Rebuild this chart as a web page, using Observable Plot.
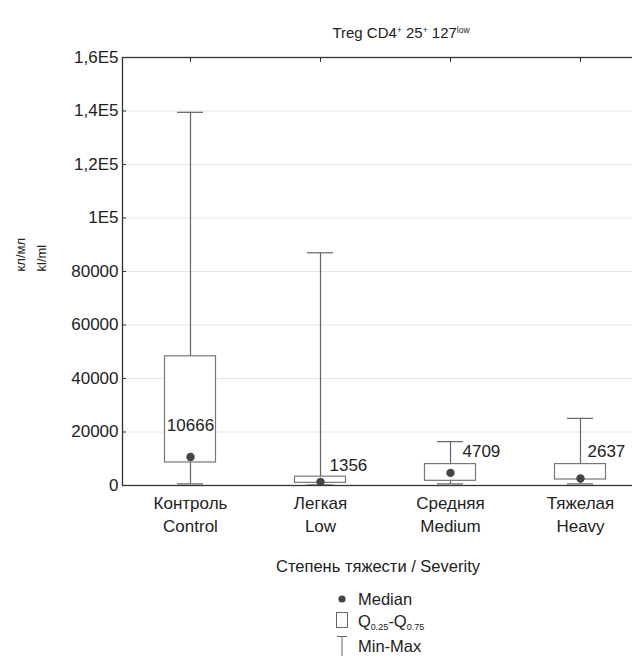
<!DOCTYPE html>
<html>
<head>
<meta charset="utf-8">
<script src="https://cdn.jsdelivr.net/npm/d3@7"></script>
<script src="https://cdn.jsdelivr.net/npm/@observablehq/plot@0.6"></script>
<style>
  html, body { margin: 0; padding: 0; background: #fff; overflow: hidden; }
  #wrap { position: relative; width: 632px; height: 656px; overflow: hidden; font-family: "Liberation Sans", Arial, sans-serif; color: #222; }
  #chart { position: absolute; left: 0; top: 0; }
  #chart svg { max-width: none !important; }
  .title { position: absolute; top: 24px; left: 0; width: 802px; text-align: center; font-size: 15px; color: #222; }
  .title sup { font-size: 8.5px; vertical-align: 5px; line-height: 0; }
  .legend { position: absolute; left: 330px; top: 588px; font-size: 16.5px; color: #222; }
  .legend .row { position: relative; height: 22px; line-height: 22px; padding-left: 28px; }
  .legend .row.last { margin-top: 3px; }
  .legend sub { font-size: 9px; vertical-align: -3px; line-height: 0; }
</style>
</head>
<body>
<div id="wrap">
  <div id="chart"></div>
  <div class="title">Treg CD4<sup>+</sup> 25<sup>+</sup> 127<sup>low</sup></div>
  <div class="legend">
    <svg width="20" height="70" style="position:absolute;left:4px;top:2px;overflow:visible">
      <circle cx="8" cy="9" r="3.6" fill="#444"></circle>
      <rect x="2.5" y="22.5" width="11" height="15" fill="#fff" stroke="#666" stroke-width="1"></rect>
      <line x1="3" x2="13" y1="46.5" y2="46.5" stroke="#666"></line>
      <line x1="8" x2="8" y1="46.5" y2="72" stroke="#666"></line>
    </svg>
    <div class="row">Median</div>
    <div class="row">Q<sub>0.25</sub>-Q<sub>0.75</sub></div>
    <div class="row last">Min-Max</div>
  </div>
</div>
<script>
const categories = ["Контроль\nControl", "Легкая\nLow", "Средняя\nMedium", "Тяжелая\nHeavy"];
const minValues = [600, 200, 600, 600];
const q25Values = [8600, 1000, 1750, 2240];
const medianValues = [10666, 1356, 4709, 2637];
const q75Values = [48300, 3300, 8000, 8000];
const maxValues = [139500, 87000, 16400, 25100];
const yTicks = [0, 20000, 40000, 60000, 80000, 100000, 120000, 140000, 160000];
const yTickLabels = ["0", "20000", "40000", "60000", "80000", "1E5", "1,2E5", "1,4E5", "1,6E5"];
const xTitle = "Степень тяжести / Severity";
const yTitle = "кл/мл\nkl/ml";

const data = categories.map((c, i) => ({
  cat: c, min: minValues[i], q25: q25Values[i], med: medianValues[i], q75: q75Values[i], max: maxValues[i]
}));
const tickLabel = new Map(yTicks.map((t, i) => [t, yTickLabels[i]]));

const font = "Liberation Sans, Arial, sans-serif";
const labelOffsets = [
  {dx: 0, dy: -31, anchor: "middle"},
  {dx: 9, dy: -16, anchor: "start"},
  {dx: 12, dy: -21, anchor: "start"},
  {dx: 7, dy: -27, anchor: "start"}
];

const chart = Plot.plot({
  width: 646,
  height: 656,
  marginLeft: 122,
  marginRight: 1,
  marginTop: 57,
  marginBottom: 171,
  style: {fontFamily: font, fontSize: "17px", color: "#222", background: "transparent"},
  x: {domain: categories, range: [125, 645], padding: 0, label: null},
  y: {domain: [0, 160000], label: null},
  marks: [
    Plot.gridY(yTicks, {stroke: "#e6e6e6", strokeOpacity: 1}),
    Plot.ruleX(data, {x: "cat", y1: "min", y2: "max", stroke: "#666", strokeWidth: 1.2}),
    Plot.tickY(data, {x: "cat", y: "max", stroke: "#666", strokeWidth: 1.2, insetLeft: 52, insetRight: 52}),
    Plot.tickY(data, {x: "cat", y: "min", stroke: "#666", strokeWidth: 1.2, insetLeft: 52, insetRight: 52}),
    Plot.barY(data, {x: "cat", y1: "q25", y2: "q75", fill: "#fff", stroke: "#777", strokeWidth: 1.2, insetLeft: 39.5, insetRight: 39.5}),
    Plot.dot(data, {x: "cat", y: "med", r: 4.2, fill: "#444", stroke: "none"}),
    ...data.map((d, i) => Plot.text([d], {
      x: "cat", y: "med", text: (d) => String(d.med),
      dx: labelOffsets[i].dx, dy: labelOffsets[i].dy, textAnchor: labelOffsets[i].anchor,
      fontSize: 17, fill: "#222"
    })),
    Plot.axisY({ticks: yTicks, tickFormat: (t) => tickLabel.get(t), tickSize: -4, tickPadding: 8, stroke: "#333", fontSize: 17, label: null}),
    Plot.axisX({anchor: "top", tickSize: -4, tickFormat: () => "", stroke: "#333", label: null}),
    Plot.axisX({anchor: "bottom", tickSize: 0, tickPadding: 7, fontSize: 17, lineHeight: 1.35, label: null}),
    Plot.frame({stroke: "#333", strokeWidth: 1.3}),
    Plot.text([xTitle], {frameAnchor: "bottom", dx: -6, dy: 86, fontSize: 16.5, fill: "#222"}),
    Plot.text([yTitle], {frameAnchor: "left", dx: -94, dy: 0, rotate: -90, fontSize: 13, lineHeight: 1.6, fill: "#222"})
  ]
});
document.getElementById("chart").appendChild(chart);
</script>
</body>
</html>
